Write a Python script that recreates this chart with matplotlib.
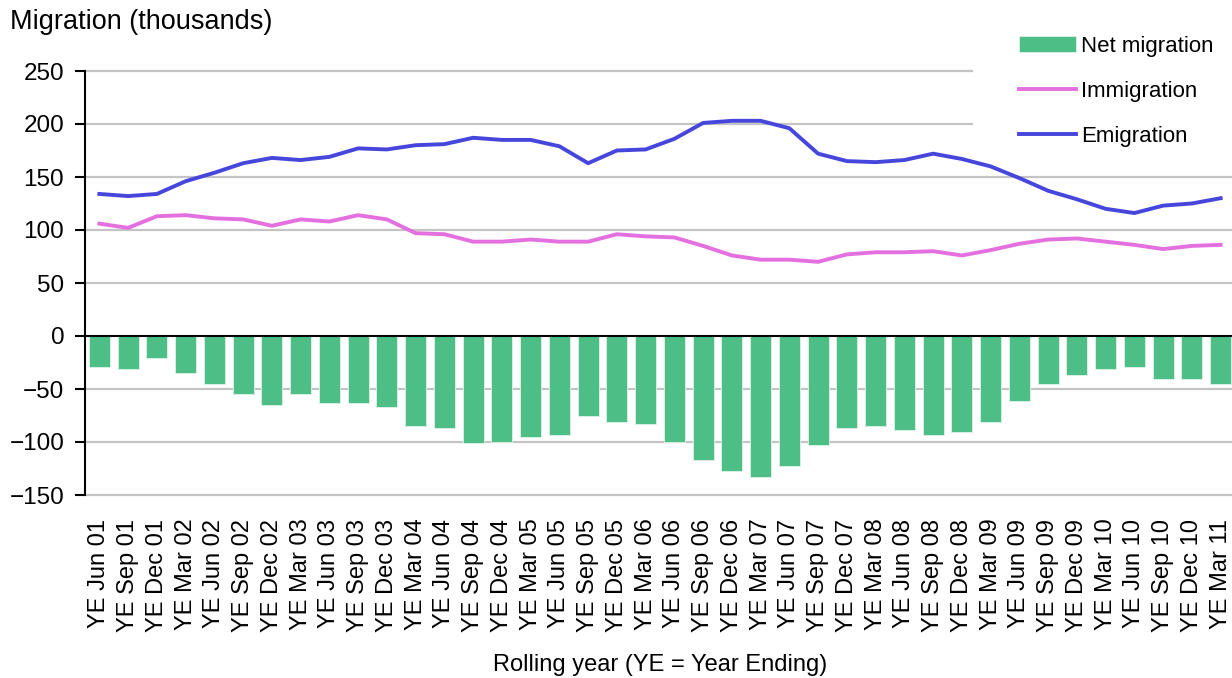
import matplotlib
matplotlib.use("Agg")
import matplotlib.pyplot as plt
import numpy as np

plt.rcParams["font.family"] = ["Liberation Sans", "DejaVu Sans"]

# rolling years, quarterly
periods = []
for year in range(1, 12):
    for month in ["Mar", "Jun", "Sep", "Dec"]:
        periods.append("YE %s %02d" % (month, year))
periods = periods[1:41]  # YE Jun 01 .. YE Mar 11

net_migration = [-29, -31, -21, -35, -45, -55, -65, -55, -63, -63,
                 -67, -85, -87, -101, -100, -95, -93, -75, -81, -83,
                 -100, -117, -127, -133, -123, -103, -87, -85, -89, -93,
                 -91, -81, -61, -45, -37, -31, -29, -41, -41, -45]
immigration = [106, 102, 113, 114, 111, 110, 104, 110, 108, 114,
               110, 97, 96, 89, 89, 91, 89, 89, 96, 94,
               93, 85, 76, 72, 72, 70, 77, 79, 79, 80,
               76, 81, 87, 91, 92, 89, 86, 82, 85, 86]
emigration = [134, 132, 134, 146, 154, 163, 168, 166, 169, 177,
              176, 180, 181, 187, 185, 185, 179, 163, 175, 176,
              186, 201, 203, 203, 196, 172, 165, 164, 166, 172,
              167, 160, 149, 137, 129, 120, 116, 123, 125, 130]
y_ticks = [-150, -100, -50, 0, 50, 100, 150, 200, 250]

green = "#4dbf86"
pink = "#e46fdf"
blue = "#4646dc"
grid_col = "#c4c4c4"

fig = plt.figure(figsize=(12.32, 6.78), dpi=100)
ax = fig.add_axes([85 / 1232, 1 - 495 / 678, 1150 / 1232, 424 / 678])

x = np.arange(len(periods))
bars = ax.bar(x, net_migration, width=0.73, color=green, edgecolor="#dff3e8",
              linewidth=0.6, label="Net migration", zorder=2)
l_imm, = ax.plot(x, immigration, color=pink, lw=2.8, label="Immigration", zorder=3)
l_emi, = ax.plot(x, emigration, color=blue, lw=2.8, label="Emigration", zorder=3)

ax.set_xlim(-0.5, len(periods) - 0.5)
ax.set_ylim(-150, 250)
ax.set_yticks(y_ticks)

# gridlines; the top two stop where the legend box sits
legend_left = (972 - 85) / 1150
for yv in y_ticks:
    if yv == 0:
        continue
    ax.axhline(yv, xmax=legend_left if yv >= 200 else 1, color=grid_col,
               lw=1.6, zorder=0, clip_on=False)
ax.axhline(0, color="black", lw=1.5, zorder=4)

for side in ["top", "right", "bottom"]:
    ax.spines[side].set_visible(False)
ax.spines["left"].set_linewidth(1.5)

ax.set_xticks(x)
ax.set_xticklabels(periods, rotation=90, va="top", ha="center")
ax.tick_params(axis="x", length=0, pad=17, labelsize=17)
ax.tick_params(axis="y", length=7, width=1.5, direction="out", pad=8, labelsize=17.5)

ax.set_xlabel("Rolling year (YE = Year Ending)", fontsize=17, labelpad=16)
fig.text(10 / 1232, 1 - 22 / 678, "Migration (thousands)", fontsize=19.5,
         ha="left", va="center")

leg = ax.legend([bars, l_imm, l_emi], ["Net migration", "Immigration", "Emigration"],
                loc="upper left", bbox_to_anchor=(983 / 1232, 1.0),
                bbox_transform=fig.transFigure, fontsize=16, frameon=False,
                handlelength=2.6, handleheight=0.7,
                handletextpad=0.2, labelspacing=1.08, borderpad=1.6,
                borderaxespad=0)

fig.savefig("out.png", dpi=100)
